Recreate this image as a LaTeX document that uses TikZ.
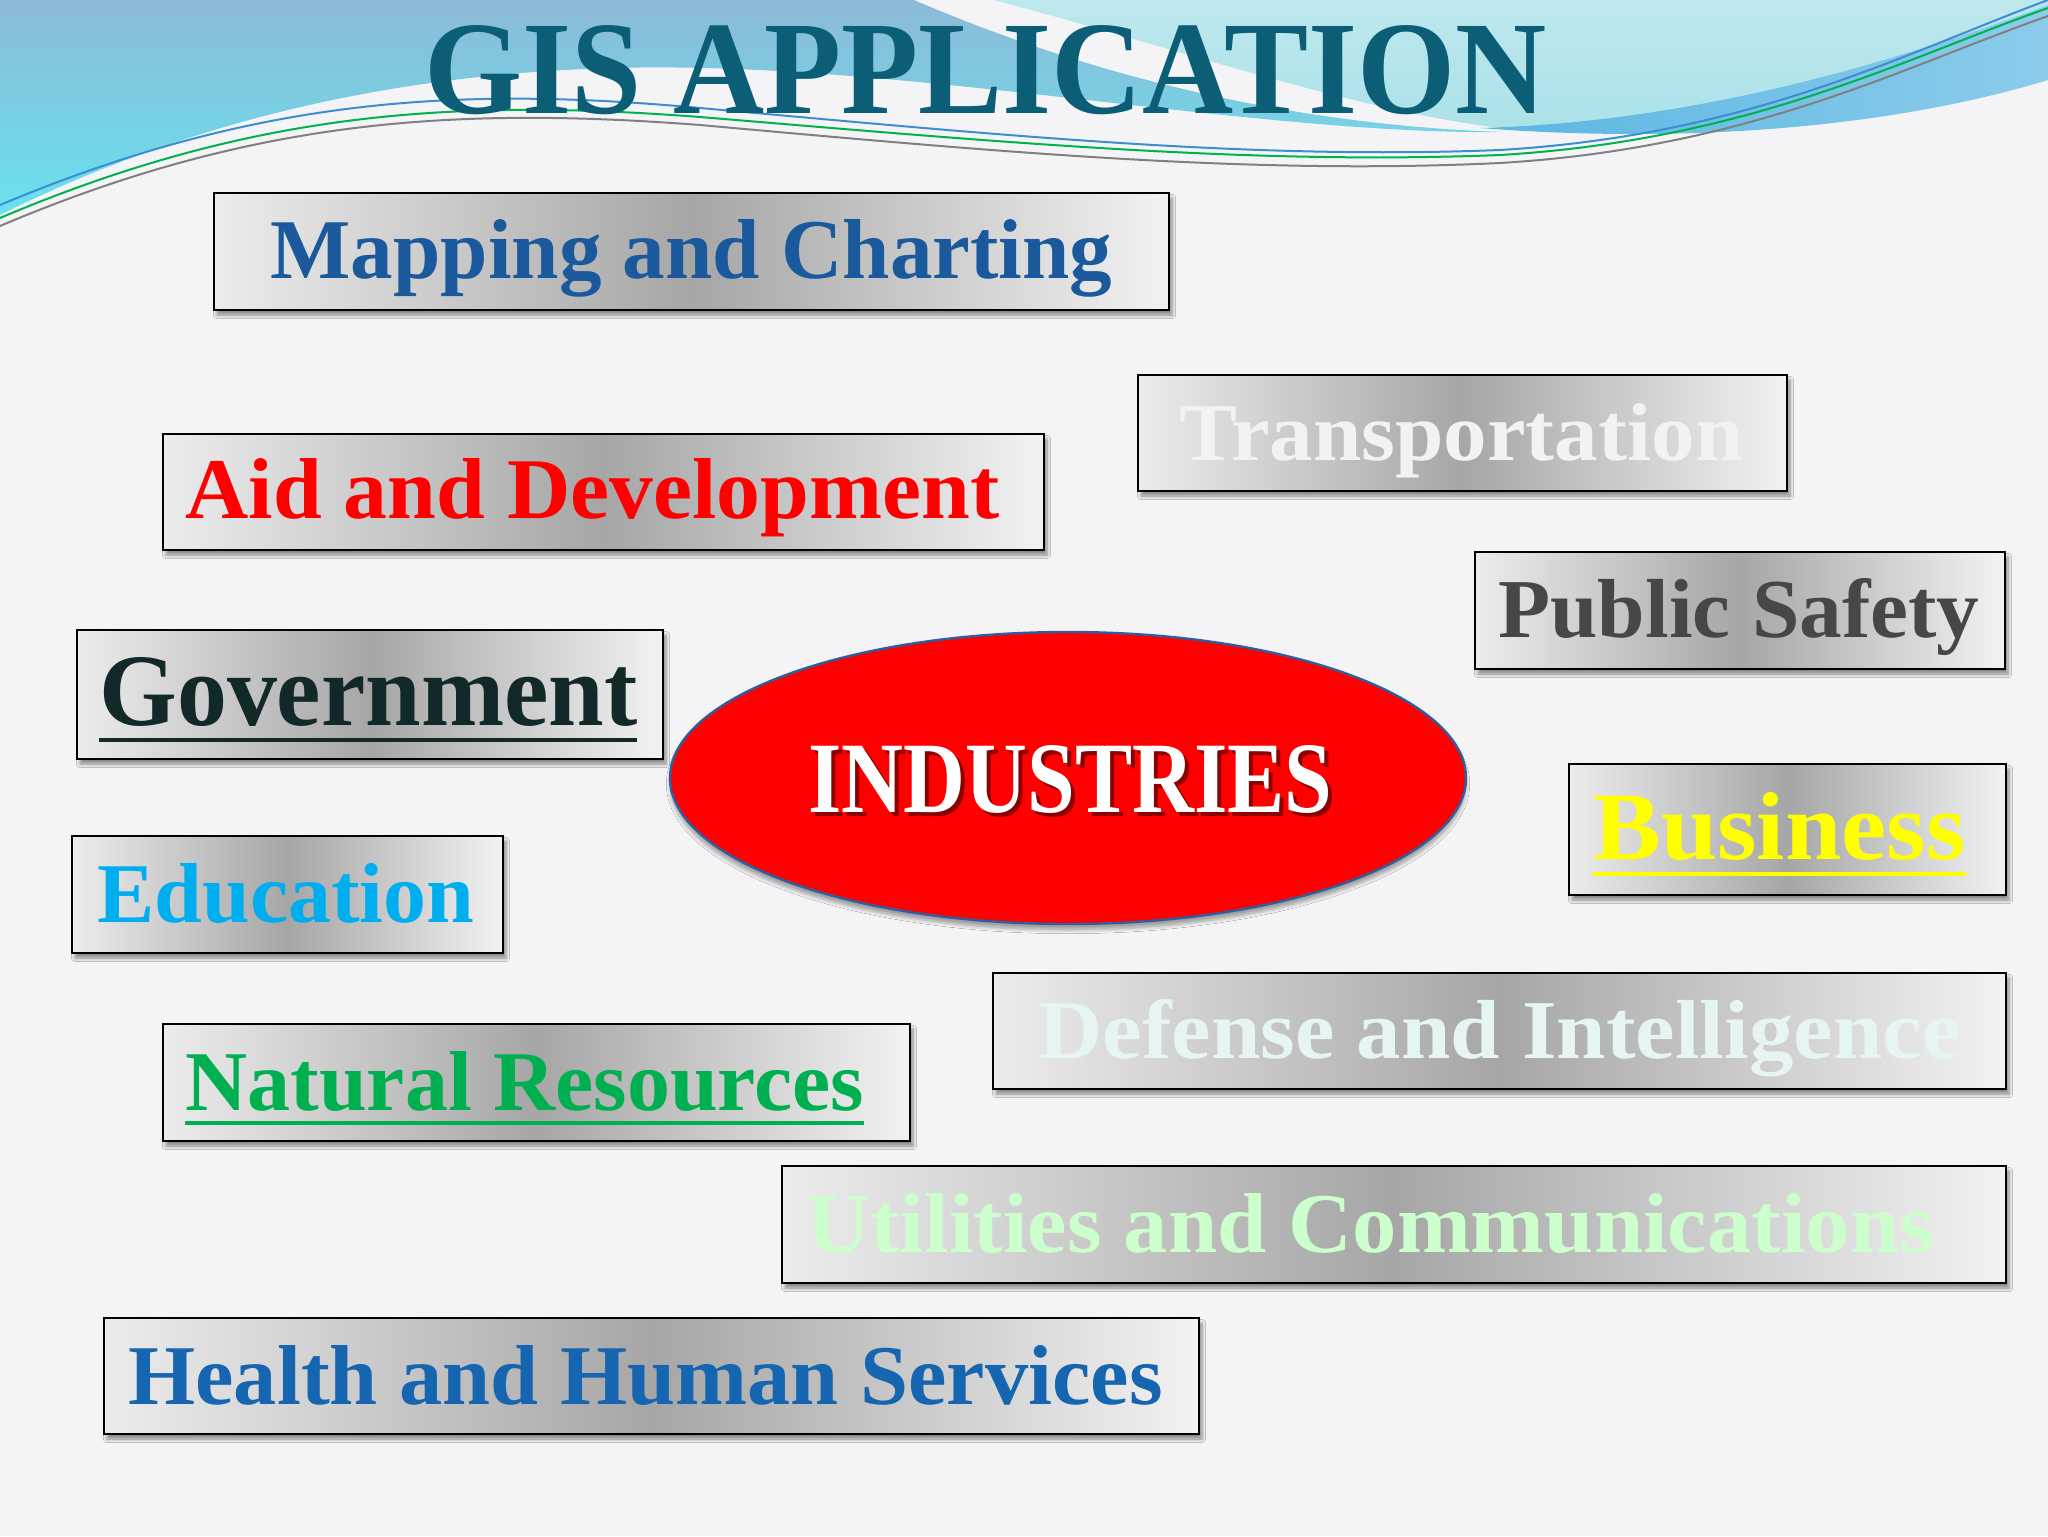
\documentclass[tikz,border=0pt]{standalone}
\usepackage{fontspec}
\setmainfont{Liberation Serif}
\usepackage{graphicx}
\usetikzlibrary{shadows.blur,shapes.geometric}
\newdimen\px \px=0.5pt
\newcommand\fitt[3]{\resizebox{#1\px}{#2\px}{#3}}
\definecolor{bgc}{HTML}{F4F4F6}
\definecolor{lbtop}{HTML}{8CBAD8}
\definecolor{lbbot}{HTML}{68E2EE}
\definecolor{rcy}{HTML}{ACE2E9}
\definecolor{band}{HTML}{5AB6E2}
\definecolor{ctitle}{HTML}{0B5E76}
\definecolor{cmap}{HTML}{1A5A9C}
\definecolor{ctrans}{HTML}{F2F2F4}
\definecolor{caid}{HTML}{FF0000}
\definecolor{cpub}{HTML}{474747}
\definecolor{cgov}{HTML}{132828}
\definecolor{cbus}{HTML}{FFFF00}
\definecolor{cedu}{HTML}{00AEEF}
\definecolor{cdef}{HTML}{E6F4F4}
\definecolor{cnat}{HTML}{00B050}
\definecolor{cutil}{HTML}{CCFFCC}
\definecolor{cheal}{HTML}{1565B0}
\definecolor{ellb}{HTML}{2E5E9E}
\definecolor{mleft}{HTML}{ECECEC}
\definecolor{mmid}{HTML}{A6A6A6}
\definecolor{mright}{HTML}{F2F2F2}
\tikzset{
  gbox/.style={draw=black, line width=1.3pt, rectangle, inner sep=0pt,
    left color=mleft, right color=mright, middle color=mmid,
    blur shadow={shadow xshift=1.5pt, shadow yshift=-2.5pt, shadow blur steps=6, shadow opacity=45}},
  lbl/.style={anchor=base west, inner sep=0pt, font=\bfseries},
  wline/.style={line width=1pt, line cap=round}
}
\begin{document}
\begin{tikzpicture}[x=0.5pt,y=-0.5pt]
\useasboundingbox (0,0) rectangle (2048,1536);
\fill[bgc] (0,0) rectangle (2048,1536);
% background waves
\shade[top color=lbtop, bottom color=lbbot] (0,0) -- (914,0)
  .. controls (1100,80) and (1300,125) .. (1502,132)
  .. controls (1250,135) and (900,60) .. (614,68)
  .. controls (350,75) and (150,140) .. (0,215) -- cycle;
\shade[top color=rcy!80, bottom color=rcy] (993,0) -- (2048,0) -- (2048,20)
  .. controls (1900,70) and (1700,120) .. (1500,128)
  .. controls (1350,110) and (1150,40) .. (993,0) -- cycle;
\shade[left color=band, right color=band!70!white] (1480,128)
  .. controls (1700,122) and (1900,60) .. (2048,5) -- (2048,80)
  .. controls (1900,125) and (1700,145) .. (1480,128) -- cycle;
\draw[wline, color=cyan!60!blue!80] (0,205) .. controls (250,100) and (450,85) .. (700,108)
  .. controls (1000,135) and (1250,160) .. (1500,150) .. controls (1750,135) and (1900,55) .. (2048,0);
\draw[wline, color=teal!60!green] (0,218) .. controls (250,112) and (450,98) .. (700,117)
  .. controls (1000,142) and (1250,165) .. (1500,155) .. controls (1750,140) and (1900,60) .. (2048,8);
\draw[wline, color=gray] (0,226) .. controls (250,120) and (450,106) .. (700,125)
  .. controls (1000,152) and (1250,175) .. (1500,163) .. controls (1750,148) and (1900,68) .. (2048,16);
% title
\node[lbl, text=ctitle] (title) at (424,114) {\fitt{1122}{88}{GIS APPLICATION}};
% boxes
\node[gbox, minimum width=477.5pt, minimum height=58.5pt] (map) at (691.5,251.5) {};
\node[lbl, text=cmap] (mapT) at (270,278) {\fitt{842}{59}{Mapping and Charting}};
\node[gbox, minimum width=324.5pt, minimum height=58pt] (trans) at (1462.5,433) {};
\node[lbl, text=ctrans] (transT) at (1179,460) {\fitt{564}{57}{Transportation}};
\node[gbox, minimum width=440.5pt, minimum height=58pt] (aid) at (603.5,492) {};
\node[lbl, text=caid] (aidT) at (185,518) {\fitt{814}{60}{Aid and Development}};
\node[gbox, minimum width=265pt, minimum height=58.5pt] (pub) at (1740,610.5) {};
\node[lbl, text=cpub] (pubT) at (1498,637) {\fitt{481}{59}{Public Safety}};
\node[gbox, minimum width=293pt, minimum height=64.5pt] (gov) at (370,694.5) {};
\node[lbl, text=cgov] (govT) at (99,725) {\fitt{538}{68}{\underline{Government}}};
\node[gbox, minimum width=218.5pt, minimum height=65.5pt] (bus) at (1787.5,829.5) {};
\node[lbl, text=cbus] (busT) at (1593,859) {\fitt{372}{67}{\underline{Business}}};
\node[gbox, minimum width=215.5pt, minimum height=58.5pt] (edu) at (287.5,894.5) {};
\node[lbl, text=cedu] (eduT) at (97,922) {\fitt{377}{59}{Education}};
\node[gbox, minimum width=506.5pt, minimum height=58pt] (def) at (1499.5,1031) {};
\node[lbl, text=cdef] (defT) at (1038,1058) {\fitt{923}{59}{Defense and Intelligence}};
\node[gbox, minimum width=373.5pt, minimum height=58.5pt] (nat) at (536.5,1082.5) {};
\node[lbl, text=cnat] (natT) at (185,1110) {\fitt{679}{59}{\underline{Natural Resources}}};
\node[gbox, minimum width=612pt, minimum height=58.5pt] (util) at (1394,1224.5) {};
\node[lbl, text=cutil] (utilT) at (806,1252) {\fitt{1127}{59}{Utilities and Communications}};
\node[gbox, minimum width=547.5pt, minimum height=58pt] (heal) at (651.5,1376) {};
\node[lbl, text=cheal] (healT) at (128,1404) {\fitt{1034}{59}{Health and Human Services}};
% central ellipse
\node[ellipse, draw=ellb, line width=1.2pt, fill=red, minimum width=398pt, minimum height=146pt,
  blur shadow={shadow xshift=0pt, shadow yshift=-3pt, shadow blur steps=6, shadow opacity=35}] (ind) at (1068,778) {};
\node[lbl, text=black, opacity=0.45] (indS) at (812,816) {\fitt{524}{67}{INDUSTRIES}};
\node[lbl, text=white] (indT) at (808,812) {\fitt{524}{67}{INDUSTRIES}};
\end{tikzpicture}
\end{document}
